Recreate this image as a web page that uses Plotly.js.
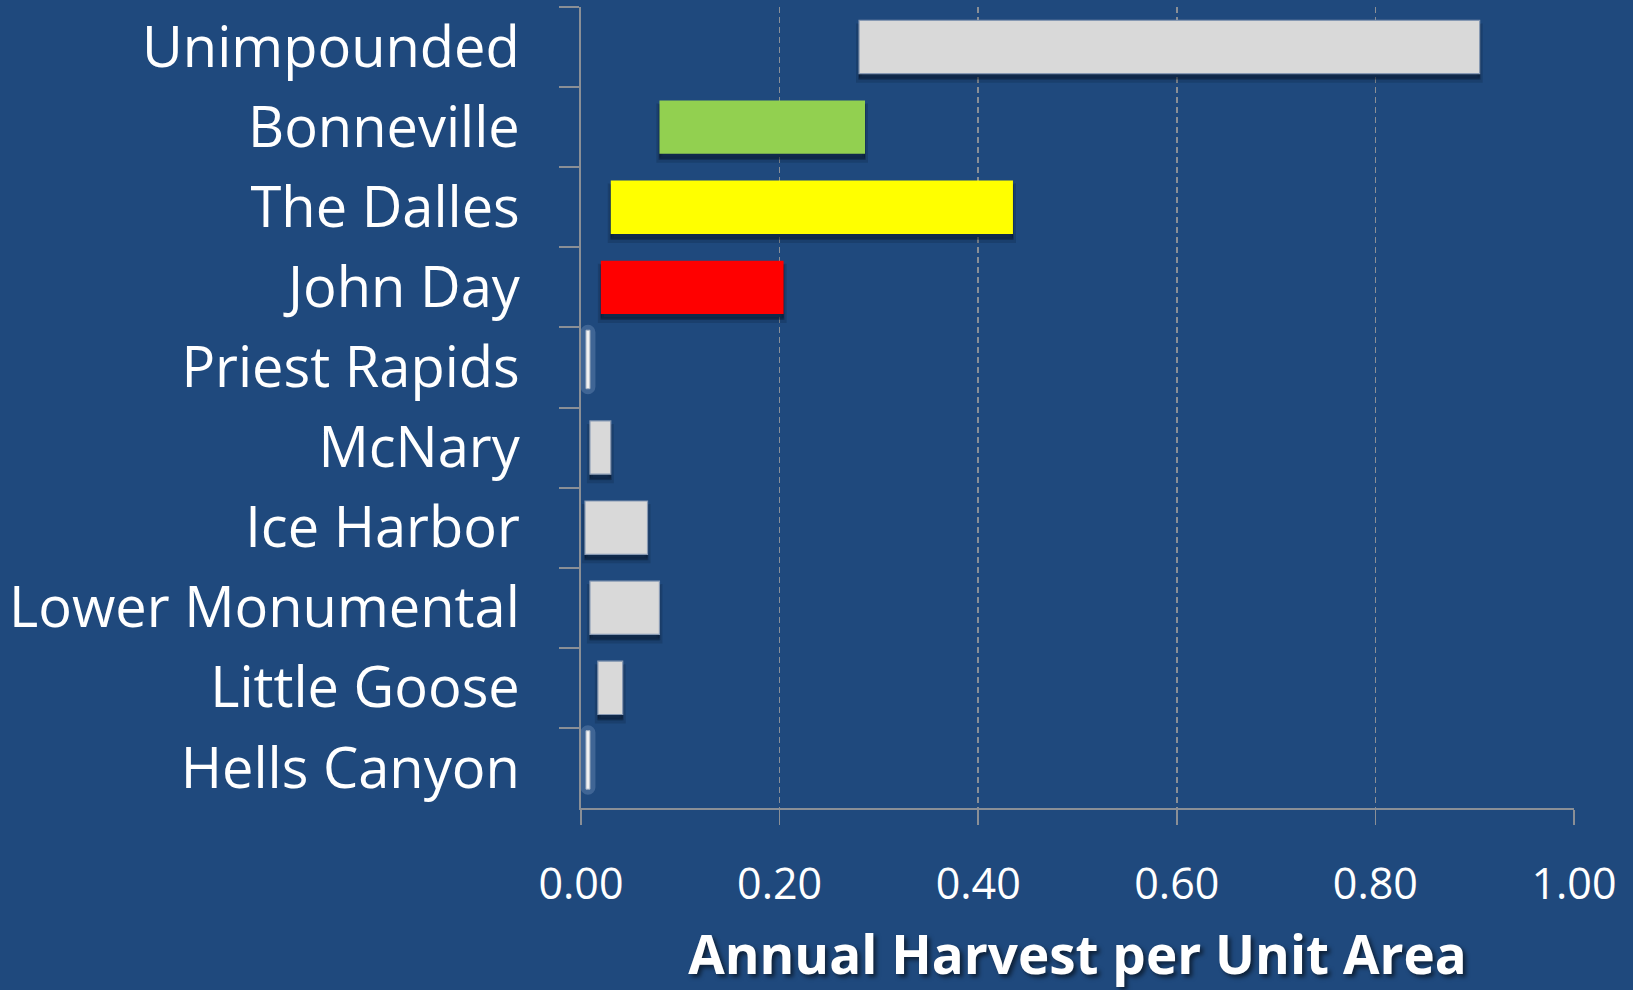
<!DOCTYPE html>
<html><head><meta charset="utf-8">
<script src="https://cdn.plot.ly/plotly-3.0.1.min.js"></script>
<style>html,body{margin:0;padding:0;background:#1f497d;}#chart{width:1633px;height:990px;}</style>
</head><body><div id="chart"></div>
<script>
const categories = ['Unimpounded','Bonneville','The Dalles','John Day','Priest Rapids','McNary','Ice Harbor','Lower Monumental','Little Goose','Hells Canyon'];
const lowValues  = [0.280, 0.079, 0.030, 0.020, 0.005, 0.009, 0.004, 0.009, 0.017, 0.005];
const highValues = [0.905, 0.286, 0.435, 0.204, 0.009, 0.030, 0.067, 0.079, 0.042, 0.009];
const barColors  = ['#d9d9d9','#92d050','#ffff00','#ff0000','#f2f2f2','#d9d9d9','#d9d9d9','#d9d9d9','#d9d9d9','#f2f2f2'];
const highlighted = ['Priest Rapids','Hells Canyon'];
const xTickValues = [0, 0.2, 0.4, 0.6, 0.8, 1.0];
const xTickLabels = ['0.00','0.20','0.40','0.60','0.80','1.00'];
const xTitle = 'Annual Harvest per Unit Area';

const isHi = c => highlighted.includes(c);
const idxMain = categories.map((c,i)=>i).filter(i=>!isHi(categories[i]));
const idxHi = categories.map((c,i)=>i).filter(i=>isHi(categories[i]));
const pick = (arr, idx) => idx.map(i=>arr[i]);
const span = idx => idx.map(i=>highValues[i]-lowValues[i]);

const barW = 0.666;
function shadow(shift, alpha, lw){
  return {
    type:'bar', orientation:'h', y:pick(categories,idxMain), base:pick(lowValues,idxMain), x:span(idxMain),
    width:barW, offset:-barW/2+shift,
    marker:{color:'rgba(8,20,40,'+alpha+')', line:{width:lw, color:'rgba(8,20,40,'+alpha+')'}}, hoverinfo:'skip'
  };
}
const traces = [
  shadow(0.075, 0.18, 6),
  shadow(0.06, 0.25, 2),
  shadow(0.045, 0.3, 0),
  { // main bars
    type:'bar', orientation:'h', y:pick(categories,idxMain), base:pick(lowValues,idxMain), x:span(idxMain),
    width:barW, offset:-barW/2,
    marker:{color:pick(barColors,idxMain),
      line:{width:idxMain.map(i=>barColors[i]==='#d9d9d9'?1.2:0), color:'#8799b3'}}
  },
  { // highlight glow behind tiny bars
    type:'bar', orientation:'h', y:pick(categories,idxHi), base:pick(lowValues,idxHi), x:span(idxHi),
    width:0.73, offset:-0.465,
    marker:{color:'#3f6595', cornerradius:4, line:{width:11, color:'#3f6595'}}, hoverinfo:'skip'
  },
  { // tiny bars
    type:'bar', orientation:'h', y:pick(categories,idxHi), base:pick(lowValues,idxHi), x:span(idxHi),
    width:0.73, offset:-0.465,
    marker:{color:pick(barColors,idxHi), line:{width:1, color:'#a6b3c4'}}
  }
];

const axisGray = '#8a8f96';
const layout = {
  width:1633, height:990,
  paper_bgcolor:'#1f497d', plot_bgcolor:'#1f497d',
  margin:{l:581, r:59, t:7, b:182},
  barmode:'overlay', showlegend:false,
  font:{family:'"Open Sans", sans-serif', color:'#ffffff'},
  xaxis:{
    range:[0,1], tickmode:'array', tickvals:xTickValues, ticktext:xTickLabels,
    showgrid:true, gridcolor:axisGray, griddash:'6px,4px', gridwidth:1.5,
    showline:true, linecolor:axisGray, linewidth:2, zeroline:false,
    ticks:'outside', ticklen:15, tickwidth:1.5, tickcolor:axisGray,
    tickfont:{size:43, color:'#ffffff'}, ticklabelstandoff:22,
    title:{text:xTitle, standoff:34,
      font:{size:53, color:'#ffffff', weight:700, shadow:'3px 3px 4px rgba(0,0,0,0.55)'}}
  },
  yaxis:{
    type:'category', categoryorder:'array', categoryarray:categories, autorange:'reversed',
    showline:true, linecolor:axisGray, linewidth:2, showgrid:false, zeroline:false,
    ticks:'outside', ticklen:20, tickwidth:2, tickcolor:axisGray, tickson:'boundaries',
    tickfont:{size:56, color:'#ffffff'}, ticklabelstandoff:48
  }
};
Plotly.newPlot('chart', traces, layout, {displayModeBar:false, staticPlot:true});
</script>
</body></html>
